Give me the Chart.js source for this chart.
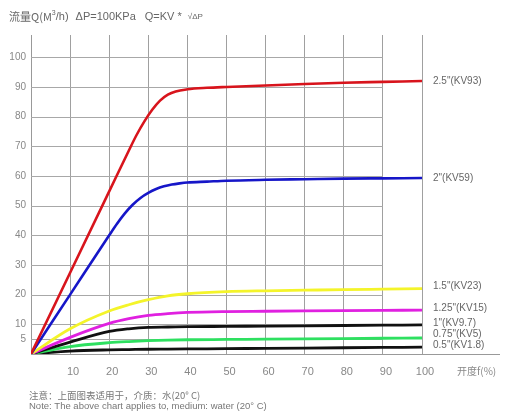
<!DOCTYPE html>
<html>
<head>
<meta charset="utf-8">
<script src="https://cdn.jsdelivr.net/npm/chart.js@4"></script>
<style>
html,body{margin:0;padding:0;background:#fff;}
#wrap{width:507px;height:412px;position:relative;}
</style>
</head>
<body>
<div id="wrap"><canvas id="c" width="507" height="412"></canvas></div>
<script>
// ---- data ----
const openingRed  = [0, 10, 20, 25, 27, 29, 31, 33, 35, 37, 40, 45, 50, 60, 70, 80, 90, 100];
const kv93        = [0, 27.4, 54.8, 68.5, 73.8, 78.4, 82.3, 85.4, 87.4, 88.5, 89.2, 89.7, 90, 90.5, 91, 91.4, 91.7, 92];
const openingBlue = [0, 10, 20, 22, 24, 26, 28, 30, 32, 34, 36, 38, 40, 45, 50, 60, 70, 80, 90, 100];
const kv59        = [0, 20, 40, 43.9, 47.4, 50.3, 52.6, 54.3, 55.6, 56.5, 57.1, 57.5, 57.8, 58.1, 58.4, 58.7, 58.9, 59.1, 59.2, 59.3];
const opening     = [0, 10, 20, 25, 30, 35, 40, 50, 60, 70, 80, 90, 100];
const kv23  = [0, 8.5, 14.5, 16.6, 18.3, 19.6, 20.3, 21, 21.3, 21.5, 21.7, 21.85, 22];
const kv15  = [0, 5.6, 10.3, 11.9, 13, 13.6, 14, 14.3, 14.4, 14.5, 14.6, 14.7, 14.8];
const kv97  = [0, 4, 7.6, 8.5, 9, 9.1, 9.2, 9.3, 9.4, 9.5, 9.6, 9.7, 9.8];
const kv5   = [0, 2.5, 3.8, 4.2, 4.5, 4.7, 4.8, 4.9, 5.0, 5.1, 5.2, 5.3, 5.4];
const kv18  = [0, 1.0, 1.4, 1.5, 1.6, 1.65, 1.7, 1.8, 1.9, 2.0, 2.1, 2.2, 2.3];
const seriesLabels = ['2.5"(KV93)', '2"(KV59)', '1.5"(KV23)', '1.25"(KV15)', '1"(KV9.7)', '0.75"(KV5)', '0.5"(KV1.8)'];
const seriesX      = [openingRed, openingBlue, opening, opening, opening, opening, opening];
const seriesValues = [kv93, kv59, kv23, kv15, kv97, kv5, kv18];
const seriesColors = ['#d8141c', '#1616c8', '#f4f42a', '#e020e0', '#111111', '#2ee060', '#111111'];
const yTicks = [0, 5, 10, 20, 30, 40, 50, 60, 70, 80, 90, 100];
const xTicks = [0, 10, 20, 30, 40, 50, 60, 70, 80, 90, 100];
const titleText = ['流量Q(M', '3', '/h)', 'ΔP=100KPa', 'Q=KV *', '√ΔP'];
const noteCN = '注意：上面图表适用于，介质：水(20° C)';
const noteEN = 'Note: The above chart applies to, medium: water (20° C)';
const xAxisTitle = '开度f(%)';

const FONT = "'Liberation Sans', Arial, sans-serif";
const CJK = "'Noto Sans CJK SC', sans-serif";

const datasets = seriesValues.map((vals, i) => ({
  label: seriesLabels[i],
  data: seriesX[i].map((x, j) => ({x: x, y: vals[j]})),
  borderColor: seriesColors[i],
  backgroundColor: seriesColors[i],
  borderWidth: i < 2 ? 2.6 : 2.8,
  pointRadius: 0,
  cubicInterpolationMode: 'monotone',
  fill: false
}));

const extras = {
  id: 'extras',
  beforeDatasetsDraw(chart) {
    const ctx = chart.ctx, ca = chart.chartArea;
    const xs = chart.scales.x, ys = chart.scales.y;
    ctx.save();
    ctx.strokeStyle = '#a8a8a8';
    ctx.lineWidth = 1;
    const xEnd = xs.getPixelForValue(90);
    yTicks.forEach(v => {
      if (v === 0) return;
      const y = Math.round(ys.getPixelForValue(v)) + 0.5;
      ctx.beginPath(); ctx.moveTo(ca.left, y); ctx.lineTo(xEnd, y); ctx.stroke();
    });
    ctx.strokeStyle = '#999';
    const yb = Math.round(ys.getPixelForValue(0)) + 0.5;
    ctx.beginPath(); ctx.moveTo(ca.left, yb); ctx.lineTo(500, yb); ctx.stroke();
    ctx.restore();
  },
  afterDraw(chart) {
    const ctx = chart.ctx;
    const xs = chart.scales.x, ys = chart.scales.y;
    ctx.save();
    ctx.fillStyle = '#666';
    ctx.font = '10px ' + FONT;
    ctx.textBaseline = 'middle';
    ctx.textAlign = 'left';
    const ends = seriesValues.map(v => ys.getPixelForValue(v[v.length - 1]));
    const pos = ends.map((y, i) => i < 2 ? y : y - 2);
    for (let i = pos.length - 2; i >= 0; i--) {
      if (pos[i] > pos[i + 1] - 11) pos[i] = pos[i + 1] - 11;
    }
    seriesLabels.forEach((t, i) => ctx.fillText(t, xs.getPixelForValue(100) + 11, pos[i]));
    ctx.font = '10px ' + CJK;
    ctx.fillStyle = '#888';
    ctx.fillText(xAxisTitle, 457, 371);
    let x = 9;
    const yT = 17;
    const parts = [
      {t: titleText[0], f: '11px ' + CJK, dy: 0},
      {t: titleText[1], f: '7px ' + FONT, dy: -4},
      {t: titleText[2], f: '11px ' + FONT, dy: 0},
      {gap: 7},
      {t: titleText[3], f: '11px ' + FONT, dy: 0},
      {gap: 9},
      {t: titleText[4], f: '11px ' + FONT, dy: 0},
      {gap: 6},
      {t: titleText[5], f: '8px ' + FONT, dy: 0}
    ];
    ctx.fillStyle = '#666';
    parts.forEach(p => {
      if (p.gap) { x += p.gap; return; }
      ctx.font = p.f;
      ctx.fillText(p.t, x, yT + p.dy);
      x += ctx.measureText(p.t).width;
    });
    ctx.fillStyle = '#777';
    ctx.font = '9.5px ' + CJK;
    ctx.fillText(noteCN, 29, 395);
    ctx.font = '9.5px ' + FONT;
    ctx.fillText(noteEN, 29, 406);
    ctx.restore();
  }
};

new Chart(document.getElementById('c'), {
  type: 'line',
  data: {datasets: datasets},
  plugins: [extras],
  options: {
    responsive: false,
    animation: false,
    layout: {padding: {left: 0, right: 85, top: 35, bottom: 0}},
    plugins: {legend: {display: false}, tooltip: {enabled: false}, title: {display: false}},
    scales: {
      x: {
        type: 'linear', min: 0, max: 100,
        afterBuildTicks: s => { s.ticks = xTicks.map(v => ({value: v})); },
        afterFit: s => { s.height = 58; },
        grid: {display: true, color: '#a0a0a0', lineWidth: 1, drawTicks: false},
        border: {display: false},
        ticks: {
          padding: 11, labelOffset: 3, color: '#888', font: {size: 11, family: FONT},
          maxRotation: 0, autoSkip: false,
          callback: v => v === 0 ? '' : String(v)
        }
      },
      y: {
        type: 'linear', min: 0, max: 107.5,
        afterBuildTicks: s => { s.ticks = yTicks.map(v => ({value: v})); },
        afterFit: s => { s.width = 31; },
        grid: {display: false, drawTicks: false},
        border: {display: true, color: '#999', width: 1},
        ticks: {
          padding: 5, color: '#888', font: {size: 10, family: FONT}, autoSkip: false,
          callback: v => v === 0 ? '' : String(v)
        }
      }
    }
  }
});
</script>
</body>
</html>
